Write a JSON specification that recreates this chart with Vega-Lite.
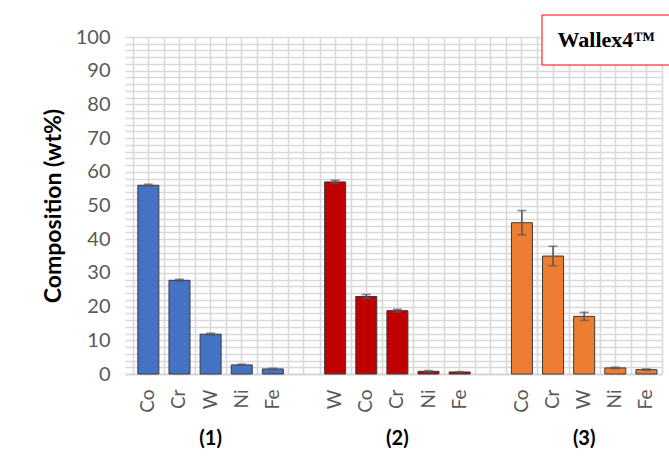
{
  "$schema": "https://vega.github.io/schema/vega-lite/v6.json",
  "width": 537,
  "height": 337,
  "autosize": {"type": "none"},
  "padding": {"left": 125, "top": 37, "right": 7, "bottom": 88},
  "background": "white",
  "config": {"view": {"stroke": null}, "font": "Lato"},
  "data": {
    "values": [
      {"g": "(1)", "el": "Co", "key": "1-Co", "v": 56.0, "lo": 55.7, "hi": 56.3},
      {"g": "(1)", "el": "Cr", "key": "1-Cr", "v": 27.8, "lo": 27.5, "hi": 28.1},
      {"g": "(1)", "el": "W", "key": "1-W", "v": 11.8, "lo": 11.5, "hi": 12.1},
      {"g": "(1)", "el": "Ni", "key": "1-Ni", "v": 2.7, "lo": 2.5, "hi": 2.9},
      {"g": "(1)", "el": "Fe", "key": "1-Fe", "v": 1.5, "lo": 1.3, "hi": 1.7},
      {"g": "(2)", "el": "W", "key": "2-W", "v": 57.0, "lo": 56.5, "hi": 57.5},
      {"g": "(2)", "el": "Co", "key": "2-Co", "v": 23.0, "lo": 22.4, "hi": 23.6},
      {"g": "(2)", "el": "Cr", "key": "2-Cr", "v": 18.8, "lo": 18.4, "hi": 19.2},
      {"g": "(2)", "el": "Ni", "key": "2-Ni", "v": 0.8, "lo": 0.6, "hi": 1.0},
      {"g": "(2)", "el": "Fe", "key": "2-Fe", "v": 0.6, "lo": 0.5, "hi": 0.7},
      {"g": "(3)", "el": "Co", "key": "3-Co", "v": 44.9, "lo": 41.3, "hi": 48.5},
      {"g": "(3)", "el": "Cr", "key": "3-Cr", "v": 35.0, "lo": 32.1, "hi": 37.9},
      {"g": "(3)", "el": "W", "key": "3-W", "v": 17.1, "lo": 15.9, "hi": 18.3},
      {"g": "(3)", "el": "Ni", "key": "3-Ni", "v": 1.8, "lo": 1.6, "hi": 2.0},
      {"g": "(3)", "el": "Fe", "key": "3-Fe", "v": 1.3, "lo": 1.1, "hi": 1.5}
    ]
  },
  "resolve": {"axis": {"x": "independent"}},
  "layer": [
    {
      "mark": {"type": "bar", "width": {"band": 0.675}, "stroke": "#3a3a3a", "strokeWidth": 1},
      "encoding": {
        "x": {
          "field": "key", "type": "nominal", "sort": null,
          "scale": {"domain": ["1-Co","1-Cr","1-W","1-Ni","1-Fe","gap1","2-W","2-Co","2-Cr","2-Ni","2-Fe","gap2","3-Co","3-Cr","3-W","3-Ni","3-Fe"], "paddingInner": 0, "paddingOuter": 0.125, "align": 1},
          "axis": {
            "orient": "bottom", "title": null, "labelAngle": -90,
            "labelExpr": "indexof(datum.value, 'gap') >= 0 ? '' : split(datum.value, '-')[1]",
            "labelFont": "Lato", "labelFontSize": 19, "labelColor": "#595959", "labelPadding": 15,
            "labelOverlap": false, "ticks": false, "tickSize": 0,
            "domain": true, "domainColor": "#D0D0D0", "domainWidth": 1.6,
            "grid": true, "gridColor": "#D9D9D9", "gridWidth": 1.6, "tickBand": "center"
          }
        },
        "y": {
          "field": "v", "type": "quantitative",
          "scale": {"domain": [0, 100], "nice": false},
          "axis": {
            "title": "Composition (wt%)",
            "values": [0,2,4,6,8,10,12,14,16,18,20,22,24,26,28,30,32,34,36,38,40,42,44,46,48,50,52,54,56,58,60,62,64,66,68,70,72,74,76,78,80,82,84,86,88,90,92,94,96,98,100],
            "tickCount": 60,
            "labelExpr": "datum.value % 10 === 0 ? datum.label : ''",
            "labelFont": "Lato", "labelFontSize": 20, "labelColor": "#595959", "labelPadding": 15,
            "labelOverlap": false, "ticks": false, "domain": false,
            "grid": true, "gridColor": "#D9D9D9", "gridWidth": 1.6,
            "titleFont": "Lato", "titleFontSize": 23, "titleFontWeight": "bold", "titleColor": "black", "titlePadding": 10
          }
        },
        "color": {
          "field": "g", "type": "nominal",
          "scale": {"domain": ["(1)", "(2)", "(3)"], "range": ["#4472C4", "#C00000", "#ED7D31"]},
          "legend": null
        },
        "opacity": {
          "datum": "Wallex4™", "type": "nominal", "scale": {"range": [1]},
          "legend": {
            "orient": "none", "legendX": 416.5, "legendY": -22.5, "title": null,
            "strokeColor": "#FF0000", "fillColor": "white", "padding": 14,
            "labelFont": "Liberation Serif", "labelFontSize": 22, "labelFontWeight": "bold", "labelColor": "black",
            "labelOffset": -20, "labelLimit": 300, "symbolOpacity": 0, "symbolSize": 0, "symbolStrokeWidth": 0,
            "encode": {"legend": {"update": {"strokeWidth": {"value": 2.8}}}}
          }
        },
        "strokeOpacity": {
          "datum": "frame", "type": "nominal", "scale": {"range": [1]},
          "legend": {
            "orient": "none", "legendX": -109, "legendY": -25, "title": null,
            "strokeColor": "#1e1e1e", "padding": 2,
            "labelExpr": "''", "labelFontSize": 1, "labelOffset": 0,
            "symbolOpacity": 0, "symbolFillColor": "transparent", "symbolSize": 500000, "symbolStrokeWidth": 0,
            "encode": {"legend": {"update": {"strokeWidth": {"value": 2.5}}}}
          }
        },
        "fillOpacity": {
          "field": "g", "type": "nominal", "scale": {"range": [1, 1, 1]},
          "legend": {
            "orient": "none", "legendX": -109, "legendY": -25, "title": null,
            "strokeColor": "#1e1e1e", "padding": 2,
            "labelExpr": "''", "labelFontSize": 1, "labelOffset": 0,
            "symbolOpacity": 0, "symbolFillColor": "transparent", "symbolSize": 500000, "symbolStrokeWidth": 0,
            "encode": {"legend": {"update": {"strokeWidth": {"value": 2.5}}}}
          }
        }
      }
    },
    {
      "mark": {"type": "rule", "color": "#595959", "strokeWidth": 1.6},
      "encoding": {
        "x": {
          "field": "key", "type": "nominal", "sort": null,
          "scale": {"domain": ["1-Co","1-Cr","1-W","1-Ni","1-Fe","gap1","2-W","2-Co","2-Cr","2-Ni","2-Fe","gap2","3-Co","3-Cr","3-W","3-Ni","3-Fe"], "paddingInner": 0, "paddingOuter": 0.125, "align": 1},
          "axis": {
            "orient": "bottom", "title": null, "labels": false, "ticks": false, "domain": false,
            "grid": true, "gridColor": "#D9D9D9", "gridWidth": 1.6, "tickBand": "extent"
          }
        },
        "y": {"field": "lo", "type": "quantitative", "scale": {"domain": [0, 100], "nice": false}, "title": "Composition (wt%)"},
        "y2": {"field": "hi"}
      }
    },
    {
      "mark": {"type": "tick", "color": "#595959", "thickness": 1.6, "size": 9},
      "encoding": {
        "x": {
          "field": "key", "type": "nominal", "sort": null,
          "scale": {"domain": ["1-Co","1-Cr","1-W","1-Ni","1-Fe","gap1","2-W","2-Co","2-Cr","2-Ni","2-Fe","gap2","3-Co","3-Cr","3-W","3-Ni","3-Fe"], "paddingInner": 0, "paddingOuter": 0.125, "align": 1},
          "axis": {
            "orient": "bottom", "title": null, "labelAngle": 0,
            "labelExpr": "datum.value === '1-W' ? '(1)' : datum.value === '2-Cr' ? '(2)' : datum.value === '3-W' ? '(3)' : ''",
            "labelFont": "Lato", "labelFontSize": 20, "labelFontWeight": "bold", "labelColor": "black",
            "labelPadding": 54, "labelOverlap": false, "ticks": false, "tickSize": 0, "domain": false, "grid": false
          }
        },
        "y": {"field": "hi", "type": "quantitative", "scale": {"domain": [0, 100], "nice": false}, "title": "Composition (wt%)"}
      }
    },
    {
      "mark": {"type": "tick", "color": "#595959", "thickness": 1.6, "size": 9},
      "encoding": {
        "x": {
          "field": "key", "type": "nominal", "sort": null,
          "scale": {"domain": ["1-Co","1-Cr","1-W","1-Ni","1-Fe","gap1","2-W","2-Co","2-Cr","2-Ni","2-Fe","gap2","3-Co","3-Cr","3-W","3-Ni","3-Fe"], "paddingInner": 0, "paddingOuter": 0.125, "align": 1},
          "axis": null
        },
        "y": {"field": "lo", "type": "quantitative", "scale": {"domain": [0, 100], "nice": false}, "title": "Composition (wt%)"}
      }
    }
  ]
}
